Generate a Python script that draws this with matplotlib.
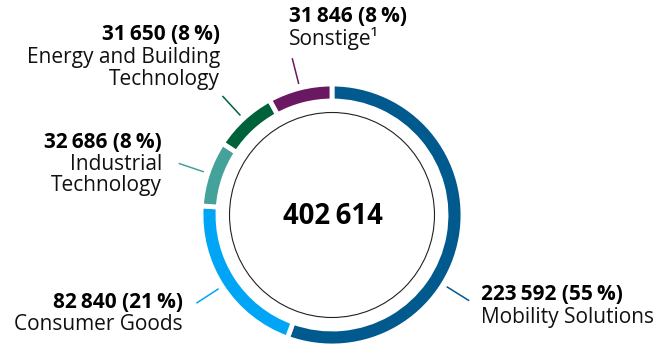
import matplotlib
matplotlib.use("Agg")
import matplotlib.pyplot as plt
import numpy as np
from matplotlib.patches import Circle

plt.rcParams['font.family'] = ['Open Sans', 'DejaVu Sans']

categories = ["Mobility Solutions", "Consumer Goods", "Industrial\nTechnology",
              "Energy and Building\nTechnology", "Sonstige\u00b9"]
values = [223592, 82840, 32686, 31650, 31846]
percents = [55, 21, 8, 8, 8]
total_label = "402\u2009614"
colors = ["#005A8E", "#00A6F5", "#45A29B", "#00623A", "#6A1861"]

W, H = 663, 346
fig = plt.figure(figsize=(W / 100, H / 100), dpi=100)
ax = fig.add_axes([0, 0, 1, 1])

cx, cy = 332, H - 215
R = 131
ring_w = 17

wedges, _ = ax.pie(values, colors=colors, startangle=90, counterclock=False,
                   center=(cx, cy), radius=R, frame=True,
                   wedgeprops=dict(width=ring_w, edgecolor='white', linewidth=3.5))
ax.set_xlim(0, W)
ax.set_ylim(0, H)
ax.set_aspect('equal')
ax.axis('off')

ax.add_patch(Circle((cx, cy), 102.5, facecolor='none', edgecolor='#222222', linewidth=0.8))
ax.text(cx + 1, H - 216, total_label, ha='center', va='center', fontsize=19.8, fontweight='bold', color='black')

def fmt(v):
    return f"{v:,}".replace(",", "\u2009")

# leader lines
fracs = np.array(values) / sum(values)
starts = 90 - 360 * np.concatenate([[0], np.cumsum(fracs)[:-1]])
mids = starts - 180 * fracs
leader_angles = list(mids)
leader_angles[0] = -32
for ang, col in zip(leader_angles, colors):
    a = np.deg2rad(ang)
    ax.plot([cx + 136 * np.cos(a), cx + 161 * np.cos(a)],
            [cy + 136 * np.sin(a), cy + 161 * np.sin(a)], color=col, lw=1.1)

# labels: (x, ha, first-line y) in pixels from top
label_pos = [(481, 'left', 295), (183, 'right', 302), (162, 'right', 142),
             (220, 'right', 35), (289, 'left', 17)]
line_h = 22
fs = 15
for cat, v, p, (x, ha, y0) in zip(categories, values, percents, label_pos):
    ax.text(x, H - y0, f"{fmt(v)} ({p}\u2009%)", ha=ha, va='center', fontsize=fs,
            fontweight='bold', color='black')
    for i, line in enumerate(cat.split("\n")):
        ax.text(x, H - (y0 + line_h * (i + 1)), line, ha=ha, va='center', fontsize=fs,
                color='#111111')

fig.savefig("out.png", dpi=100)
